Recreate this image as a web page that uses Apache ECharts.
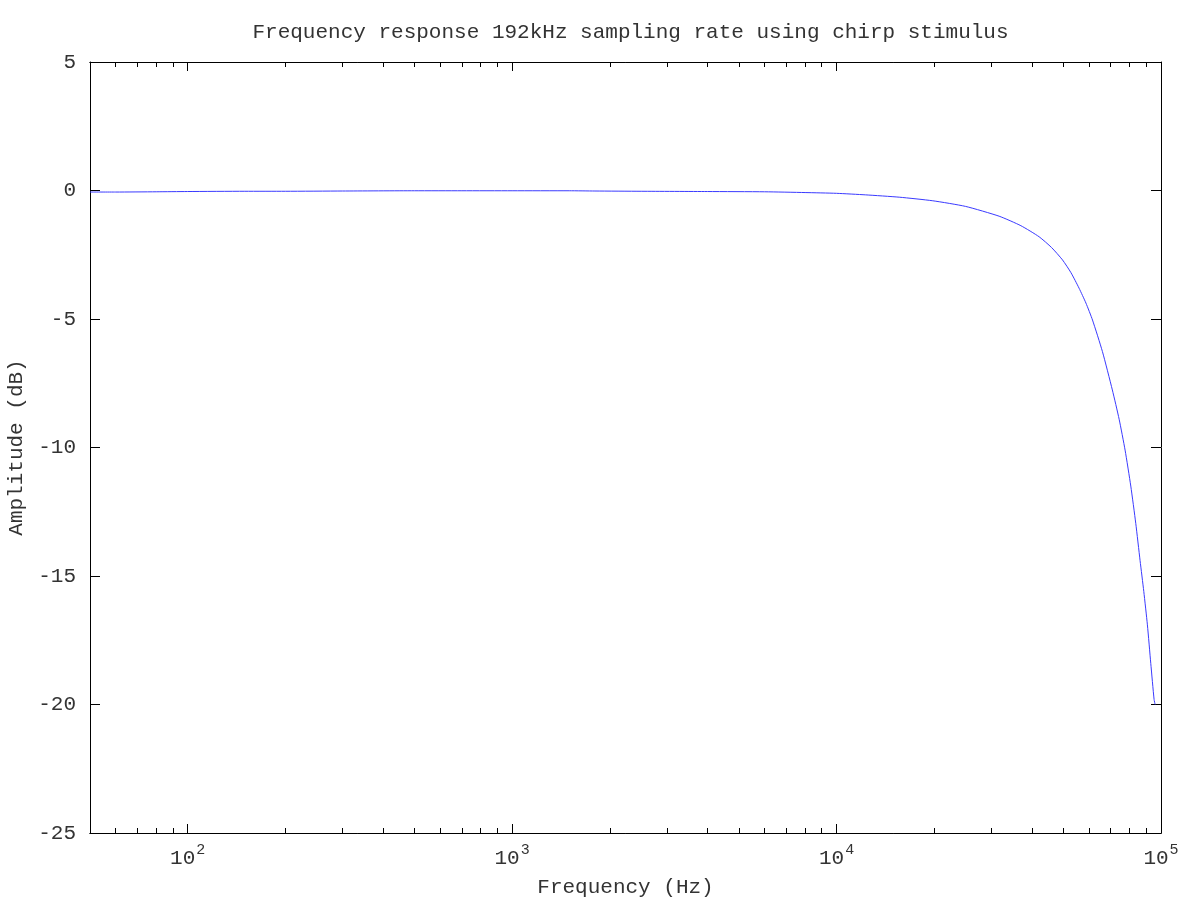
<!DOCTYPE html>
<html><head><meta charset="utf-8">
<script src="https://cdn.jsdelivr.net/npm/echarts@6/dist/echarts.min.js"></script>
<style>html,body{margin:0;padding:0;background:#fff}#c{width:1200px;height:900px}</style>
</head><body><div id="c"></div>
<script>
const chartTitle = 'Frequency response 192kHz sampling rate using chirp stimulus';
const xName = 'Frequency (Hz)';
const yName = 'Amplitude (dB)';
const freqHz = [50, 60, 80, 100, 150, 200, 300, 500, 700, 1000, 1500, 1800, 2500, 4000, 6000, 8000, 10000, 12300, 15600, 19800, 25000, 31700, 37000, 42100, 46000, 49700, 52800, 55900, 58700, 61500, 66000, 70800, 74300, 77500, 80700, 83600, 86200, 88500, 90800, 93000, 95200, 95900];
const ampDb = [-0.06, -0.06, -0.05, -0.04, -0.03, -0.03, -0.02, -0.01, -0.01, -0.01, -0.01, -0.02, -0.03, -0.04, -0.05, -0.08, -0.11, -0.17, -0.26, -0.40, -0.62, -1.0, -1.37, -1.80, -2.22, -2.7, -3.2, -3.8, -4.38, -5.04, -6.27, -7.76, -8.9, -10.1, -11.5, -12.95, -14.4, -15.6, -16.9, -18.4, -19.8, -20.0];
const majorTicks = [100, 1000, 10000, 100000];
const minorTicks = [60, 70, 80, 90, 200, 300, 400, 500, 600, 700, 800, 900, 2000, 3000, 4000, 5000, 6000, 7000, 8000, 9000, 20000, 30000, 40000, 50000, 60000, 70000, 80000, 90000];
const xMin = 50, xMax = 100000;
const yMin = -25, yMax = 5, yStep = 5;

const FONT = 'Liberation Mono';
const TXT = '#333';
const FS = 21;
const chart = echarts.init(document.getElementById('c'));

function xAxisDef(pos, ticks, len, showLabel, name) {
  return {
    type: 'log', logBase: 10, min: xMin, max: xMax, position: pos,
    name: name || '', nameLocation: 'middle', nameGap: 44,
    nameTextStyle: {fontFamily: FONT, fontSize: FS, color: TXT},
    axisLine: {show: true, onZero: false, lineStyle: {color: '#000', width: 1}},
    axisTick: {show: true, inside: true, length: len, customValues: ticks, lineStyle: {color: '#000'}},
    axisLabel: {
      show: showLabel, customValues: ticks, margin: 10,
      formatter: v => '{b|10}{s|' + Math.round(Math.log10(v)) + '}',
      rich: {
        b: {fontFamily: FONT, fontSize: FS, lineHeight: 26, verticalAlign: 'bottom', color: TXT},
        s: {fontFamily: FONT, fontSize: 15, lineHeight: 14, verticalAlign: 'top', color: TXT, padding: [0, 0, 0, 1]}
      }
    },
    splitLine: {show: false}, minorTick: {show: false}
  };
}
function yAxisDef(pos, showLabel, name) {
  return {
    type: 'value', min: yMin, max: yMax, interval: yStep, position: pos,
    name: name || '', nameLocation: 'middle', nameGap: 58,
    nameTextStyle: {fontFamily: FONT, fontSize: FS, color: TXT},
    axisLine: {show: true, onZero: false, lineStyle: {color: '#000', width: 1}},
    axisTick: {show: true, inside: true, length: 10, lineStyle: {color: '#000'}},
    axisLabel: {show: showLabel, margin: 14, fontFamily: FONT, fontSize: FS, color: TXT},
    splitLine: {show: false}
  };
}

chart.setOption({
  animation: false,
  backgroundColor: '#fff',
  title: {
    text: chartTitle, left: 625.5, top: 17, textAlign: 'center',
    textStyle: {fontFamily: FONT, fontSize: FS, fontWeight: 'normal', color: TXT}
  },
  grid: {left: 90, right: 39, top: 62, bottom: 67, containLabel: false, outerBoundsMode: 'none'},
  xAxis: [
    xAxisDef('bottom', majorTicks, 9, true, xName),
    xAxisDef('bottom', minorTicks, 5, false),
    xAxisDef('top', majorTicks, 9, false),
    xAxisDef('top', minorTicks, 5, false)
  ],
  yAxis: [yAxisDef('left', true, yName), yAxisDef('right', false)],
  series: [{
    type: 'line', xAxisIndex: 0, yAxisIndex: 0,
    data: freqHz.map((f, i) => [f, ampDb[i]]),
    showSymbol: false, smooth: 0.2,
    lineStyle: {color: '#3a3aff', width: 1}
  }]
});
</script></body></html>
